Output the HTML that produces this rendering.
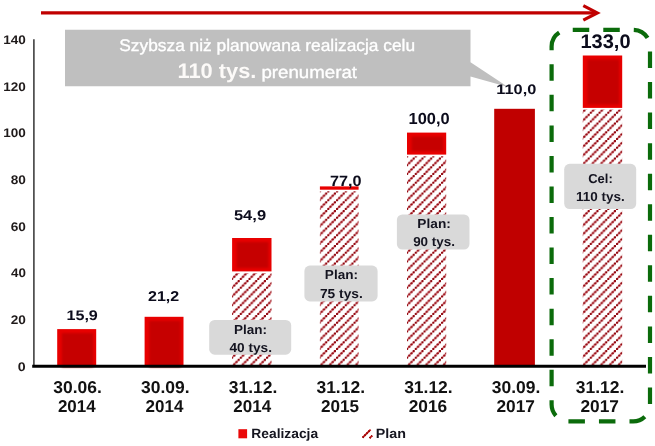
<!DOCTYPE html>
<html><head><meta charset="utf-8"><title>Realizacja celu</title>
<style>
html,body{margin:0;padding:0;background:#fff;}
body{width:655px;height:446px;overflow:hidden;font-family:"Liberation Sans",sans-serif;}
svg{display:block;}
text{font-family:"Liberation Sans",sans-serif;text-rendering:geometricPrecision;}
.b{font-weight:bold;}
</style></head><body>
<svg width="655" height="446" viewBox="0 0 655 446">
<defs>
<pattern id="hatch" patternUnits="userSpaceOnUse" width="8.75" height="8.75" patternTransform="translate(3.5 0)">
<rect width="8.75" height="8.75" fill="#fff"/>
<path d="M-1,9.75 L9.75,-1" stroke="#f08890" stroke-width="1.3"/>
<circle cx="1.094" cy="7.656" r="1.18" fill="#8c0008"/><circle cx="3.281" cy="5.469" r="1.18" fill="#8c0008"/><circle cx="5.469" cy="3.281" r="1.18" fill="#8c0008"/><circle cx="7.656" cy="1.094" r="1.18" fill="#8c0008"/>
</pattern>
<filter id="bl" x="-20%" y="-20%" width="140%" height="140%"><feGaussianBlur stdDeviation="1.1"/></filter>
</defs>
<rect width="655" height="446" fill="#fff"/>

<path d="M41,12.9 H597" stroke="#c00000" stroke-width="3.2" fill="none"/>
<path d="M583.3,5.7 L597.3,12.9 L583.3,20.1" stroke="#c00000" stroke-width="3.2" fill="none" stroke-linejoin="miter"/>
<path d="M33.9,39.2 V367" stroke="#333" stroke-width="1.5" fill="none"/>
<text class="b" x="17.83" y="370.8" font-size="12.5" textLength="7.88" lengthAdjust="spacingAndGlyphs" fill="#1f1a1a">0</text>
<text class="b" x="10.75" y="324.1" font-size="12.5" textLength="15.16" lengthAdjust="spacingAndGlyphs" fill="#1f1a1a">20</text>
<text class="b" x="11.03" y="277.4" font-size="12.5" textLength="14.87" lengthAdjust="spacingAndGlyphs" fill="#1f1a1a">40</text>
<text class="b" x="10.75" y="230.7" font-size="12.5" textLength="15.16" lengthAdjust="spacingAndGlyphs" fill="#1f1a1a">60</text>
<text class="b" x="10.75" y="184.0" font-size="12.5" textLength="15.16" lengthAdjust="spacingAndGlyphs" fill="#1f1a1a">80</text>
<text class="b" x="3.29" y="137.3" font-size="12.5" textLength="22.57" lengthAdjust="spacingAndGlyphs" fill="#1f1a1a">100</text>
<text class="b" x="3.29" y="90.6" font-size="12.5" textLength="22.57" lengthAdjust="spacingAndGlyphs" fill="#1f1a1a">120</text>
<text class="b" x="3.29" y="43.8" font-size="12.5" textLength="22.57" lengthAdjust="spacingAndGlyphs" fill="#1f1a1a">140</text>
<path d="M65,29.7 H470.5 V62.3 L508,87 L470.5,76.5 V86.2 H65 Z" fill="#bfbfbf"/>
<text stroke="#fff" stroke-width="0.35" x="119.26" y="50.6" font-size="16.8" textLength="295.87" lengthAdjust="spacingAndGlyphs" fill="#fff">Szybsza niż planowana realizacja celu</text>
<text class="b" x="177.49" y="77.9" font-size="21" textLength="78.93" lengthAdjust="spacingAndGlyphs" fill="#fcfaf8">110 tys.</text>
<text stroke="#fff" stroke-width="0.35" x="261.48" y="77.8" font-size="17.2" textLength="95.58" lengthAdjust="spacingAndGlyphs" fill="#fff">prenumerat</text>
<rect x="57.2" y="329.1" width="39.0" height="37.2" fill="#e80000"/>
<rect x="61.8" y="333.1" width="31.4" height="34.0" fill="#c60000" filter="url(#bl)"/>
<rect x="144.6" y="316.8" width="38.9" height="49.5" fill="#e80000"/>
<rect x="149.2" y="320.8" width="31.3" height="46.3" fill="#c60000" filter="url(#bl)"/>
<rect x="232.1" y="273.1" width="39.4" height="93.2" fill="url(#hatch)"/>
<rect x="232.1" y="238.0" width="39.4" height="33.4" fill="#e80000"/>
<rect x="236.7" y="242.0" width="31.8" height="25.9" fill="#c60000" filter="url(#bl)"/>
<rect x="319.9" y="191.3" width="38.7" height="175.0" fill="url(#hatch)"/>
<rect x="319.9" y="186.4" width="38.7" height="3.3" fill="#e80000"/>
<rect x="407" y="156.3" width="39.2" height="210.0" fill="url(#hatch)"/>
<rect x="407" y="132.6" width="39.2" height="22.0" fill="#e80000"/>
<rect x="411.6" y="136.6" width="31.6" height="14.5" fill="#c60000" filter="url(#bl)"/>
<rect x="494.2" y="108.8" width="40.7" height="257.5" fill="#c00000"/>
<rect x="582.8" y="109.5" width="39.4" height="256.8" fill="url(#hatch)"/>
<rect x="582.8" y="55.5" width="39.4" height="52.4" fill="#e80000"/>
<rect x="587.4" y="59.5" width="31.8" height="44.9" fill="#c60000" filter="url(#bl)"/>
<path d="M32.2,366.25 H646" stroke="#000" stroke-width="2.8" fill="none"/>
<path d="M551.6,46.6 A16.9,16.8 0 0 1 568.5,29.8 H633.2 A16.8,16.8 0 0 1 650,46.6 V404.6 A16.8,16.8 0 0 1 633.2,421.4 H568.5 A16.9,16.8 0 0 1 551.6,404.6 Z" fill="none" stroke="#0b6b0b" stroke-width="4.2" stroke-dasharray="16.5 14.04"/>
<text class="b" x="66.43" y="319.7" font-size="14" textLength="31.42" lengthAdjust="spacingAndGlyphs" fill="#0c0c1c">15,9</text>
<text class="b" x="148.06" y="300.6" font-size="14.2" textLength="31.19" lengthAdjust="spacingAndGlyphs" fill="#0c0c1c">21,2</text>
<text class="b" x="233.94" y="220.3" font-size="14.2" textLength="32.13" lengthAdjust="spacingAndGlyphs" fill="#0c0c1c">54,9</text>
<text class="b" x="329.95" y="185.6" font-size="15" textLength="31.61" lengthAdjust="spacingAndGlyphs" fill="#0c0c1c">77,0</text>
<text class="b" x="408.62" y="123.8" font-size="16" textLength="41.08" lengthAdjust="spacingAndGlyphs" fill="#0c0c1c">100,0</text>
<text class="b" x="496.32" y="94" font-size="13.8" textLength="39.95" lengthAdjust="spacingAndGlyphs" fill="#0c0c1c">110,0</text>
<text class="b" x="580.4" y="48.2" font-size="19.6" textLength="50.15" lengthAdjust="spacingAndGlyphs" fill="#0c0c1c">133,0</text>
<rect x="209.2" y="319.9" width="82.0" height="34.8" rx="5.5" ry="5.5" fill="#d9d9d9"/>
<text class="b" x="233.99" y="333.7" font-size="13" textLength="33.03" lengthAdjust="spacingAndGlyphs" fill="#141420">Plan:</text>
<text class="b" x="229.53" y="352" font-size="13" textLength="42.47" lengthAdjust="spacingAndGlyphs" fill="#141420">40 tys.</text>
<rect x="304.4" y="265.6" width="73.2" height="35.8" rx="5.5" ry="5.5" fill="#d9d9d9"/>
<text class="b" x="324.89" y="279.4" font-size="13" textLength="33.14" lengthAdjust="spacingAndGlyphs" fill="#141420">Plan:</text>
<text class="b" x="319.95" y="297.7" font-size="13" textLength="42.86" lengthAdjust="spacingAndGlyphs" fill="#141420">75 tys.</text>
<rect x="396.9" y="214.4" width="72.6" height="35.1" rx="5.5" ry="5.5" fill="#d9d9d9"/>
<text class="b" x="417.38" y="228.4" font-size="13" textLength="33.46" lengthAdjust="spacingAndGlyphs" fill="#141420">Plan:</text>
<text class="b" x="413.16" y="246.4" font-size="13" textLength="41.82" lengthAdjust="spacingAndGlyphs" fill="#141420">90 tys.</text>
<rect x="564.2" y="163.8" width="72.0" height="45.2" rx="5.5" ry="5.5" fill="#d9d9d9"/>
<text class="b" x="588.28" y="182.8" font-size="13" textLength="24.48" lengthAdjust="spacingAndGlyphs" fill="#141420">Cel:</text>
<text class="b" x="576.09" y="200.5" font-size="13" textLength="48.61" lengthAdjust="spacingAndGlyphs" fill="#141420">110 tys.</text>
<text class="b" x="53.35" y="393.4" font-size="17.1" textLength="48.55" lengthAdjust="spacingAndGlyphs" fill="#111">30.06.</text>
<text class="b" x="57.92" y="412.2" font-size="17.1" textLength="37.76" lengthAdjust="spacingAndGlyphs" fill="#111">2014</text>
<text class="b" x="141.05" y="393.4" font-size="17.1" textLength="48.55" lengthAdjust="spacingAndGlyphs" fill="#111">30.09.</text>
<text class="b" x="145.62" y="412.2" font-size="17.1" textLength="37.76" lengthAdjust="spacingAndGlyphs" fill="#111">2014</text>
<text class="b" x="228.75" y="393.4" font-size="17.1" textLength="48.55" lengthAdjust="spacingAndGlyphs" fill="#111">31.12.</text>
<text class="b" x="233.32" y="412.2" font-size="17.1" textLength="37.76" lengthAdjust="spacingAndGlyphs" fill="#111">2014</text>
<text class="b" x="316.45" y="393.4" font-size="17.1" textLength="48.55" lengthAdjust="spacingAndGlyphs" fill="#111">31.12.</text>
<text class="b" x="321.01" y="412.2" font-size="17.1" textLength="38.11" lengthAdjust="spacingAndGlyphs" fill="#111">2015</text>
<text class="b" x="404.15" y="393.4" font-size="17.1" textLength="48.55" lengthAdjust="spacingAndGlyphs" fill="#111">31.12.</text>
<text class="b" x="408.71" y="412.2" font-size="17.1" textLength="38.46" lengthAdjust="spacingAndGlyphs" fill="#111">2016</text>
<text class="b" x="491.85" y="393.4" font-size="17.1" textLength="48.55" lengthAdjust="spacingAndGlyphs" fill="#111">30.09.</text>
<text class="b" x="496.41" y="412.2" font-size="17.1" textLength="38.46" lengthAdjust="spacingAndGlyphs" fill="#111">2017</text>
<text class="b" x="575.85" y="393.4" font-size="17.1" textLength="48.55" lengthAdjust="spacingAndGlyphs" fill="#111">31.12.</text>
<text class="b" x="580.41" y="412.2" font-size="17.1" textLength="38.46" lengthAdjust="spacingAndGlyphs" fill="#111">2017</text>
<rect x="238.4" y="429.2" width="8.7" height="9.1" fill="#ea0808"/>
<text class="b" x="251.27" y="437.6" font-size="13.4" textLength="66.88" lengthAdjust="spacingAndGlyphs" fill="#15151f">Realizacja</text>
<path d="M362.6,437.6 L370.6,429.6 M369.6,438.2 L372.2,435.6" stroke="#c81818" stroke-width="1.8" fill="none"/>
<path d="M362.6,437.6 L370.6,429.6 M369.6,438.2 L372.2,435.6" stroke="#8c0000" stroke-width="1.8" stroke-dasharray="1.3 1.5" fill="none"/>
<text class="b" x="375.74" y="437.6" font-size="13.4" textLength="30.18" lengthAdjust="spacingAndGlyphs" fill="#15151f">Plan</text>
</svg>
</body></html>
